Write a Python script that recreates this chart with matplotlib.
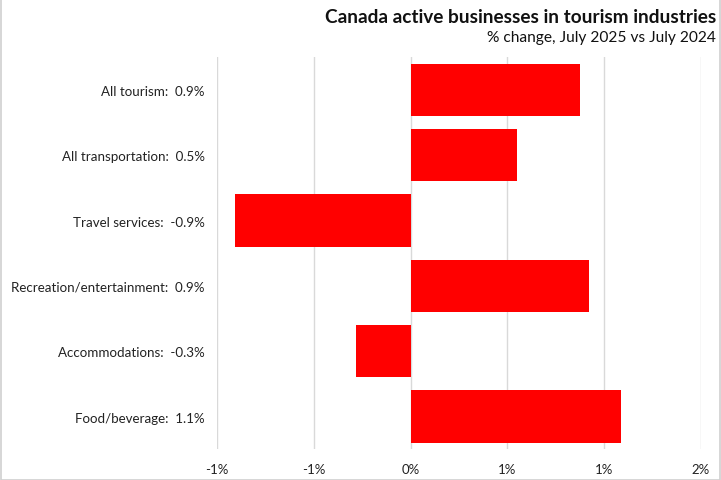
#!/usr/bin/env python3
"""Canada active businesses in tourism industries — % change, July 2025 vs July 2024."""
import math

import matplotlib
matplotlib.use("Agg")
import matplotlib.pyplot as plt
from matplotlib.ticker import FuncFormatter
from matplotlib.patches import Rectangle

plt.rcParams["font.family"] = ["Lato", "DejaVu Sans"]

CATEGORIES = ["All tourism", "All transportation", "Travel services",
              "Recreation/entertainment", "Accommodations", "Food/beverage"]
PCT_CHANGE = [0.876, 0.55, -0.907, 0.92, -0.28, 1.09]
LABEL_VALUES = ["0.9%", "0.5%", "-0.9%", "0.9%", "-0.3%", "1.1%"]
X_TICKS = [-1.0, -0.5, 0.0, 0.5, 1.0, 1.5]


def pct0(v, _pos=None):
    # spreadsheet-style rounding: halves go away from zero
    r = math.copysign(math.floor(abs(v) + 0.5), v)
    return f"{int(r)}%"


def main() -> None:
    fig = plt.figure(figsize=(7.21, 4.81), dpi=100)
    ax = fig.add_axes([0.301, 0.064, 0.671, 0.815])

    ys = list(range(len(CATEGORIES)))
    ax.barh(ys, PCT_CHANGE, height=0.8, color="#ff0000", zorder=3)
    ax.set_ylim(len(CATEGORIES) - 0.5, -0.5)
    ax.set_yticks(ys)
    ax.set_yticklabels([f"{c}:  {v}" for c, v in zip(CATEGORIES, LABEL_VALUES)],
                       fontsize=9.6, color="#222222")

    ax.set_xlim(X_TICKS[0], X_TICKS[-1])
    ax.set_xticks(X_TICKS)
    ax.xaxis.set_major_formatter(FuncFormatter(pct0))
    ax.tick_params(axis="x", labelsize=9.5, colors="#222222", length=0, pad=10)
    ax.tick_params(axis="y", length=0, pad=9)
    ax.grid(True, axis="x", color="#d9d9d9", linewidth=1, zorder=0)
    for s in ax.spines.values():
        s.set_visible(False)

    fig.text(0.993, 0.963, "Canada active businesses in tourism industries",
             ha="right", va="center", fontsize=13.7, fontweight="bold", color="#111111")
    fig.text(0.993, 0.921, "% change, July 2025 vs July 2024",
             ha="right", va="center", fontsize=11.2, color="#111111")

    fig.patches.append(Rectangle((0.001, 0.001), 0.998, 0.998, transform=fig.transFigure,
                                 fill=False, edgecolor="#d0d0d0", linewidth=1.2))
    fig.savefig("out.png", dpi=100)
    plt.close(fig)


if __name__ == "__main__":
    main()
